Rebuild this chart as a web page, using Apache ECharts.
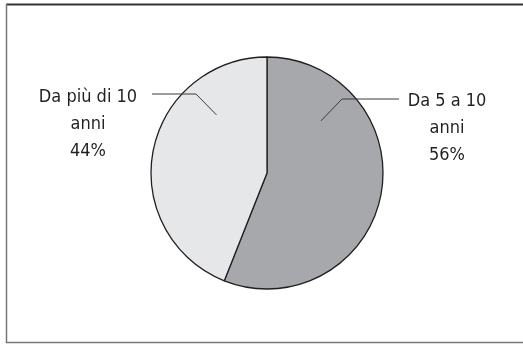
<!DOCTYPE html>
<html><head><meta charset="utf-8">
<script src="https://cdn.jsdelivr.net/npm/echarts@6/dist/echarts.min.js"></script>
<style>html,body{margin:0;padding:0;background:#fff}#c{width:523px;height:344px}</style>
</head><body><div id="c"></div>
<script>
const categories = ['Da 5 a 10\nanni', 'Da più di 10\nanni'];
const values = [56, 44];
const colors = ['#a7a8ab', '#e6e7e9'];

const CX = 267, CY = 173, R = 116;
const FONT = '"DejaVu Sans Condensed",sans-serif';

const chart = echarts.init(document.getElementById('c'), null, {renderer: 'canvas'});
const labelGeom = [
  {ang: 46, r: 75, elbow: [342, 99], endX: 399, lx: 447, ly: 88},
  {ang: -41, r: 77, elbow: [196, 94], endX: 152, lx: 88, ly: 84}
];
const pieData = categories.map((c, i) => ({name: c, value: values[i], itemStyle: {color: colors[i]}}));
chart.setOption({
  animation: false,
  graphic: [
    {type: 'line', shape: {x1: 6, y1: 4.5, x2: 523, y2: 4.5}, style: {stroke: '#333', lineWidth: 2}},
    {type: 'line', shape: {x1: 6.5, y1: 4, x2: 6.5, y2: 343}, style: {stroke: '#777', lineWidth: 1.5}},
    {type: 'line', shape: {x1: 6, y1: 342.5, x2: 523, y2: 342.5}, style: {stroke: '#777', lineWidth: 1.5}}
  ],
  series: [{
    type: 'pie',
    z: 2,
    center: [CX, CY],
    radius: R,
    startAngle: 90,
    clockwise: true,
    silent: true,
    data: pieData,
    itemStyle: {borderColor: '#231f20', borderWidth: 1.3},
    label: {show: false},
    labelLine: {show: false}
  }, {
    type: 'pie',
    z: 5,
    center: [CX, CY],
    radius: R,
    startAngle: 90,
    clockwise: true,
    silent: true,
    data: pieData.map(d => ({name: d.name, value: d.value})),
    itemStyle: {color: 'rgba(0,0,0,0)', borderWidth: 0},
    label: {
      show: true,
      formatter: p => p.name + '\n' + p.value + '%',
      fontFamily: FONT,
      fontSize: 18,
      lineHeight: 27,
      color: '#231f20',
      align: 'center',
      overflow: 'none'
    },
    labelLine: {show: true, lineStyle: {color: '#3a3a3a', width: 1}},
    labelLayout: function (params) {
      const g = labelGeom[params.dataIndex];
      const a = g.ang * Math.PI / 180;
      const sx = CX + g.r * Math.sin(a), sy = CY - g.r * Math.cos(a);
      return {
        x: g.lx,
        y: g.ly,
        align: 'center',
        verticalAlign: 'top',
        labelLinePoints: [[sx, sy], g.elbow, [g.endX, g.elbow[1]]]
      };
    }
  }]
});
</script></body></html>
